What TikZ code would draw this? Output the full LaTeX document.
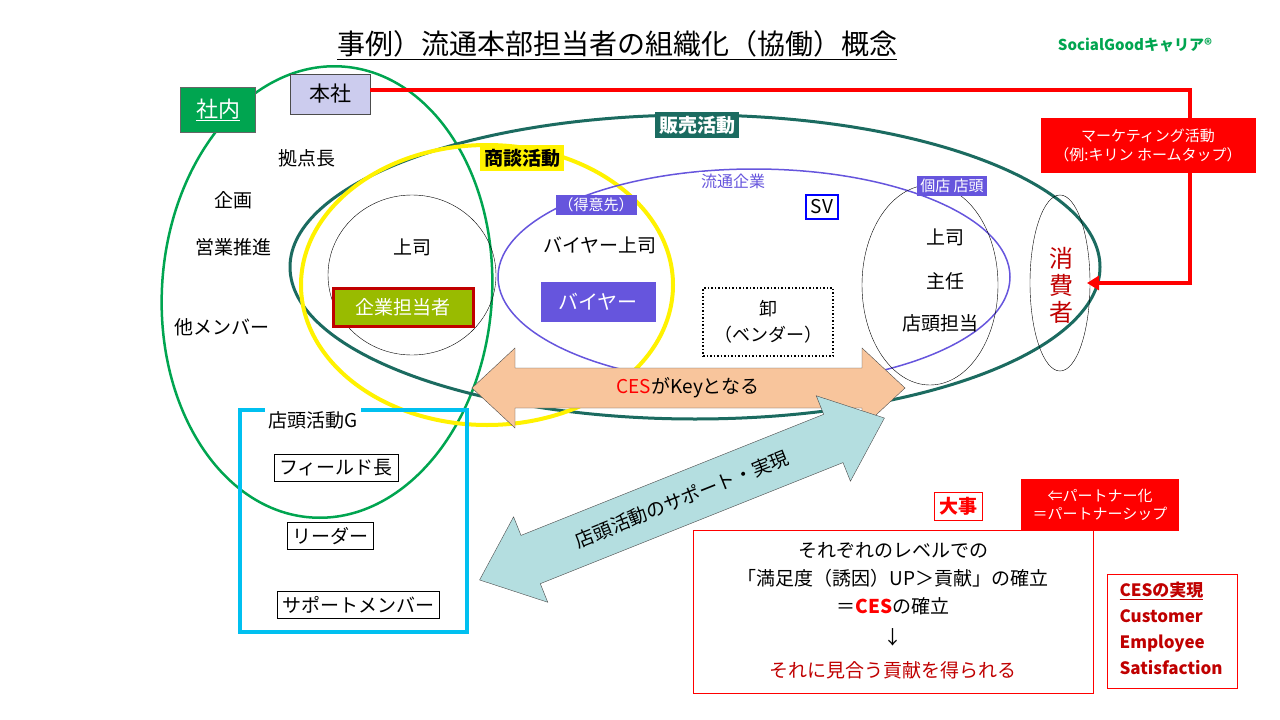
\documentclass[tikz,border=0pt]{standalone}
\usepackage{fontspec}
\setmainfont{Noto Sans CJK JP}
\usetikzlibrary{arrows.meta}
\definecolor{teal2}{HTML}{1B6B60}
\definecolor{grn}{HTML}{00A550}
\definecolor{purp}{HTML}{6655DD}
\definecolor{lav}{HTML}{CCCCEE}
\definecolor{org}{HTML}{F8C59C}
\definecolor{lblue}{HTML}{B4DEE0}
\definecolor{cyan2}{HTML}{00C0F0}
\definecolor{olive}{HTML}{99BB00}
\definecolor{dred}{HTML}{C00000}
\tikzset{
 t/.style={font=\fontsize{19}{22}\selectfont, inner sep=1pt},
 pbox/.style={fill=purp, text=white, font=\fontsize{15}{18}\selectfont, inner sep=3pt},
 wbox/.style={draw, thin, fill=white, font=\fontsize{19}{22}\selectfont, inner sep=5pt},
}
\begin{document}
\begin{tikzpicture}[x=1pt,y=-1pt]
\useasboundingbox (0,0) rectangle (1280,720);
\fill[white] (0,0) rectangle (1280,720);
\node[font=\fontsize{28}{32}\selectfont] (title) at (617,45) {\underline{事例）流通本部担当者の組織化（協働）概念}};
\node[text=grn, font=\fontsize{15}{18}\selectfont\bfseries] (brand) at (1135,45) {SocialGoodキャリア®};
% ellipses
\draw[grn, line width=2.5pt, rotate around={-4:(327,292)}] (327,292) ellipse [x radius=165, y radius=226];
\draw[teal2, line width=3pt] (695,267) ellipse [x radius=405, y radius=152];
\draw[yellow, line width=4pt] (487,285) ellipse [x radius=186, y radius=140];
\draw[purp, line width=1.5pt] (754,277) ellipse [x radius=256, y radius=108];
\draw[black] (412,275) ellipse [x radius=84, y radius=80];
\draw[black] (930,285) ellipse [x radius=68, y radius=100];
\draw[black] (1060,283) ellipse [x radius=30, y radius=88];
% red line
\node[draw=black!70, fill=lav, minimum width=80, minimum height=40, t, font=\fontsize{21}{24}\selectfont] (honsha) at (330,94) {本社};
\coordinate (c1) at (1190,90);
\coordinate (c2) at (1190,283);
\coordinate (cons) at (1087,283);
\draw[red, line width=3.5pt, -{Triangle[length=12pt,width=14pt]}] (honsha.east |- c1) -- (c1) -- (c2) -- (cons);
\node[fill=red, text=white, font=\fontsize{15}{19}\selectfont, align=center, minimum width=215, minimum height=55] (mkt) at (1148,145) {マーケティング活動\\（例:キリン\ ホームタップ）};
\node[fill=grn, text=white, draw=black!60, minimum width=75, minimum height=45, font=\fontsize{22}{24}\selectfont] (shanai) at (218,110) {\underline{社内}};
\node[fill=teal2, text=white, font=\fontsize{19}{22}\selectfont\bfseries, inner sep=4pt] (hanbai) at (697,125) {販売活動};
\node[fill=yellow, font=\fontsize{19}{22}\selectfont\bfseries, inner sep=4pt] (shodan) at (522,158) {商談活動};
\node[fill=white, text=purp, font=\fontsize{16}{19}\selectfont, inner sep=2pt] (ryutsu) at (733,181) {流通企業};
\node[pbox] (tokui) at (596,205) {（得意先）};
\node[t] (buyerb) at (600,245) {バイヤー上司};
\node[fill=purp, text=white, font=\fontsize{20}{22}\selectfont, minimum width=115, minimum height=40] (buyer) at (598,302) {バイヤー};
\node[draw=blue, line width=2pt, t, inner sep=5pt] (sv) at (822,207) {SV};
\node[draw, dotted, line width=1.5pt, align=center, font=\fontsize{18}{26}\selectfont, minimum width=130, minimum height=68] (oroshi) at (768,322) {卸\\（ベンダー）};
\node[t] (joshi1) at (412,247) {上司};
\node[fill=olive, text=white, draw=dred, line width=3pt, font=\fontsize{19}{22}\selectfont, minimum width=140, minimum height=38] (tanto) at (403,307) {企業担当者};
\node[t] (k1) at (307,158) {拠点長};
\node[t] (k2) at (233,200) {企画};
\node[t] (k3) at (233,247) {営業推進};
\node[t] (k4) at (222,327) {他メンバー};
\node[pbox] (kotten) at (952,186) {個店\ 店頭};
\node[t] (j2) at (945,237) {上司};
\node[t] (j3) at (945,281) {主任};
\node[t] (j4) at (940,323) {店頭担当};
\node[text=dred, font=\fontsize{24}{27}\selectfont, align=center] (shohi) at (1061,285) {消\\費\\者};
% CES arrow
\draw[black!70, fill=org] (472,388) -- (515,348) -- (515,368) -- (862,368) -- (862,348) -- (905,388) -- (862,428) -- (862,408) -- (515,408) -- (515,428) -- cycle;
\node[t] (ceskey) at (688,388) {\textcolor{red}{CES}がKeyとなる};
% cyan box
\draw[cyan2, line width=4pt] (240,410) rectangle (467,632);
\node[fill=white, t, inner sep=3pt] (tentoG) at (313,420) {店頭活動G};
\node[wbox] (f1) at (336,468) {フィールド長};
\node[wbox] (f2) at (330,536) {リーダー};
\node[wbox] (f3) at (358,605) {サポートメンバー};
% diagonal arrow
\begin{scope}[shift={(682,499)}, rotate=21.8]
\draw[black!70, fill=lblue] (-218,0) -- (-163,-46) -- (-163,-26) -- (163,-26) -- (163,-46) -- (218,0) -- (163,46) -- (163,26) -- (-163,26) -- (-163,46) -- cycle;
\end{scope}
\node[t, rotate=21.8] (support) at (682,499) {店頭活動のサポート・実現};
% bottom right
\node[draw=red, text=red, font=\fontsize{19}{22}\selectfont\bfseries, inner sep=5pt] (daiji) at (958,506) {大事};
\node[fill=red, text=white, font=\fontsize{15}{18}\selectfont, align=center, minimum width=158, minimum height=52] (partner) at (1100,505) {⇐パートナー化\\＝パートナーシップ};
\node[draw=red, minimum width=400, minimum height=163] (main) at (893,611.5) {};
\node[t] (m1) at (893,550) {それぞれのレベルでの};
\node[t] (m2) at (893,578) {「満足度（誘因）UP＞貢献」の確立};
\node[t] (m3) at (893,606) {＝\textcolor{red}{\bfseries CES}の確立};
\node[t] (m4) at (893,637) {↓};
\node[t, text=dred] (m5) at (893,670) {それに見合う貢献を得られる};
\node[draw=red, line width=1pt, minimum width=130, minimum height=114] (cesbox) at (1172,631) {};
\node[text=dred, font=\fontsize{17}{26}\selectfont\bfseries, align=left, anchor=north west] (cest) at (1116,578) {\underline{CESの実現}\\Customer\\Employee\\Satisfaction};
\end{tikzpicture}
\end{document}
